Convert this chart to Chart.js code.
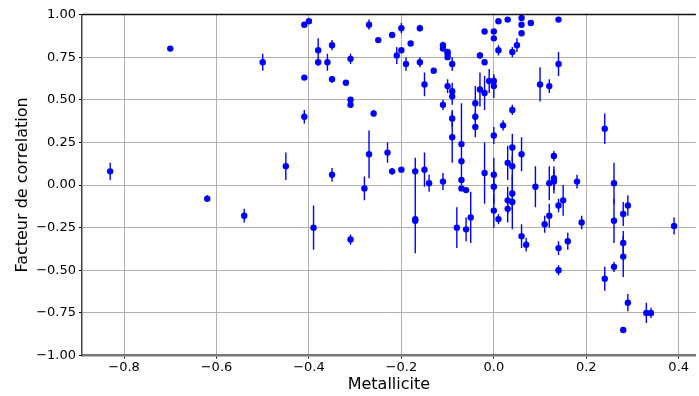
<!DOCTYPE html>
<html>
<head>
<meta charset="utf-8">
<script src="https://cdn.jsdelivr.net/npm/chart.js@4.4.0/dist/chart.umd.min.js"></script>
<style>
html,body{margin:0;padding:0;background:#fff;}
#wrap{width:699px;height:396px;}
</style>
</head>
<body>
<div id="wrap"><canvas id="c" width="699" height="396"></canvas></div>
<script>
// Metallicity values
const metallicity = [
-0.83,-0.70,-0.62,-0.54,-0.50,-0.45,-0.41,-0.41,-0.41,-0.40,
-0.39,-0.38,-0.38,-0.36,-0.35,-0.35,-0.35,-0.32,-0.31,-0.31,
-0.31,-0.31,-0.27,-0.26,-0.27,-0.28,-0.25,-0.23,-0.22,-0.22,
-0.21,-0.20,-0.20,-0.20,-0.18,-0.19,-0.17,-0.17,-0.17,-0.16,
-0.16,-0.15,-0.15,-0.14,-0.13,-0.11,-0.11,-0.11,-0.11,-0.10,
-0.10,-0.10,-0.10,-0.09,-0.09,-0.09,-0.09,-0.09,-0.08,-0.07,
-0.07,-0.07,-0.07,-0.06,-0.06,-0.05,-0.04,-0.04,-0.04,-0.03,
-0.03,-0.02,-0.02,-0.02,-0.02,-0.01,0.00,0.00,0.00,0.00,
0.00,0.00,0.00,0.00,0.01,0.01,0.01,0.02,0.03,0.03,
0.03,0.03,0.04,0.04,0.04,0.04,0.04,0.04,0.05,0.06,
0.06,0.06,0.06,0.06,0.07,0.08,0.09,0.10,0.11,0.12,
0.12,0.12,0.13,0.13,0.13,0.14,0.14,0.14,0.14,0.14,
0.15,0.16,0.18,0.19,0.24,0.24,0.26,0.26,0.26,0.28,
0.28,0.28,0.28,0.29,0.29,0.33,0.34,0.39
];
// Correlation factor values
const correlation = [
0.08,0.80,-0.08,-0.18,0.72,0.11,0.94,0.63,0.40,0.96,
-0.25,0.79,0.72,0.72,0.82,0.62,0.06,0.60,0.74,0.50,
0.47,-0.32,0.94,0.42,0.18,-0.02,0.85,0.19,0.88,0.08,
0.76,0.92,0.79,0.09,0.83,0.71,0.08,-0.20,-0.21,0.92,
0.72,0.59,0.09,0.01,0.67,0.82,0.80,0.47,0.02,0.78,
0.77,0.75,0.58,0.71,0.55,0.52,0.39,0.28,-0.25,0.24,
0.14,0.03,-0.02,-0.03,-0.26,-0.19,0.48,0.40,0.34,0.76,
0.56,0.90,0.72,0.54,0.07,0.61,0.90,0.86,0.61,0.58,
0.29,0.06,-0.01,-0.15,0.96,0.79,-0.20,0.35,0.97,0.13,
-0.09,-0.14,0.78,0.44,0.22,0.11,-0.05,-0.10,0.82,0.98,
0.94,0.89,0.18,-0.30,-0.35,0.95,-0.01,0.59,-0.23,0.58,
0.01,-0.18,0.17,0.04,0.02,0.97,0.71,-0.12,-0.37,-0.50,
-0.09,-0.33,0.02,-0.22,0.33,-0.55,0.01,-0.21,-0.48,-0.17,
-0.34,-0.42,-0.85,-0.12,-0.69,-0.75,-0.75,-0.24
];
// Error bar half-lengths
const correlationError = [
0.05,0.00,0.02,0.04,0.05,0.08,0.01,0.01,0.04,0.01,
0.13,0.07,0.02,0.05,0.03,0.02,0.04,0.01,0.03,0.01,
0.01,0.03,0.03,0.02,0.14,0.07,0.01,0.06,0.01,0.02,
0.05,0.03,0.01,0.01,0.01,0.04,0.08,0.20,0.01,0.02,
0.03,0.07,0.10,0.05,0.01,0.02,0.01,0.03,0.05,0.01,
0.01,0.01,0.04,0.04,0.05,0.05,0.05,0.15,0.12,0.24,
0.01,0.01,0.01,0.01,0.07,0.15,0.10,0.03,0.06,0.02,
0.10,0.01,0.01,0.10,0.18,0.07,0.01,0.01,0.03,0.07,
0.05,0.10,0.10,0.10,0.01,0.03,0.03,0.03,0.01,0.10,
0.08,0.08,0.03,0.03,0.08,0.06,0.10,0.16,0.04,0.01,
0.01,0.01,0.10,0.07,0.04,0.01,0.12,0.10,0.05,0.04,
0.10,0.07,0.03,0.07,0.07,0.01,0.07,0.04,0.04,0.03,
0.09,0.05,0.04,0.04,0.09,0.07,0.12,0.13,0.03,0.07,
0.07,0.12,0.00,0.06,0.05,0.06,0.03,0.05
];
const xTicks = [-0.8,-0.6,-0.4,-0.2,0.0,0.2,0.4];
const yTicks = [-1.00,-0.75,-0.50,-0.25,0.00,0.25,0.50,0.75,1.00];

const points = metallicity.map((x,i)=>({x:x,y:correlation[i],e:correlationError[i]}));

const fmt = (v,d)=>{ const s=Math.abs(v).toFixed(d); return (v< -1e-9 ? '\u2212' : '') + s; };

const errorBars = {
  id:'errorBars',
  beforeDatasetsDraw(chart){
    const {ctx, chartArea:a, scales:{x,y}} = chart;
    ctx.save();
    ctx.beginPath(); ctx.rect(a.left,a.top,a.right-a.left,a.bottom-a.top); ctx.clip();
    ctx.strokeStyle='#0000ff'; ctx.lineWidth=1.4;
    points.forEach(p=>{
      if(!p.e) return;
      const px=x.getPixelForValue(p.x);
      ctx.beginPath();
      ctx.moveTo(px,y.getPixelForValue(p.y-p.e));
      ctx.lineTo(px,y.getPixelForValue(p.y+p.e));
      ctx.stroke();
    });
    ctx.restore();
  }
};
const frame = {
  id:'frame',
  afterDraw(chart){
    const {ctx, chartArea:a} = chart;
    ctx.save();
    ctx.strokeStyle='#111'; ctx.lineWidth=1.5;
    ctx.beginPath(); ctx.moveTo(a.left,a.top); ctx.lineTo(a.right,a.top); ctx.stroke();
    ctx.restore();
  }
};

new Chart(document.getElementById('c'),{
  type:'scatter',
  data:{datasets:[{data:points,backgroundColor:'#0000ff',borderColor:'#0000ff',pointRadius:3.2,pointBorderWidth:0,pointHoverRadius:3.2}]},
  plugins:[errorBars,frame],
  options:{
    responsive:false,animation:false,devicePixelRatio:1,
    layout:{padding:{top:14.5,right:0,left:0,bottom:0}},
    plugins:{legend:{display:false},tooltip:{enabled:false}},
    scales:{
      x:{type:'linear',min:-0.891,max:0.437,
        afterBuildTicks(s){ s.ticks = xTicks.map(v=>({value:v})); },
        afterFit(s){ s.height=40.5; },
        ticks:{color:'#000',font:{family:'DejaVu Sans',size:13},padding:1,maxRotation:0,autoSkip:false,callback:v=>fmt(v,1)},
        grid:{color:'#b0b0b0',borderDash:[1.2,2.4],lineWidth:1,drawTicks:true,tickLength:3,tickColor:'#000',tickBorderDash:[]},
        border:{display:true,color:'#777',width:2.5},
        title:{display:true,text:'Metallicite',color:'#000',font:{family:'DejaVu Sans',size:16},padding:{top:0,bottom:2}}
      },
      y:{type:'linear',min:-1,max:1,
        afterBuildTicks(s){ s.ticks = yTicks.map(v=>({value:v})); },
        afterFit(s){ s.width=82; },
        ticks:{color:'#000',font:{family:'DejaVu Sans',size:13},padding:3,autoSkip:false,callback:v=>fmt(v,2)},
        grid:{color:'#b0b0b0',borderDash:[1.2,2.4],lineWidth:1,drawTicks:true,tickLength:3,tickColor:'#000',tickBorderDash:[]},
        border:{display:true,color:'#444',width:1.5},
        title:{display:true,text:'Facteur de correlation',color:'#000',font:{family:'DejaVu Sans',size:16},padding:{top:13,bottom:6}}
      }
    }
  }
});
</script>
</body>
</html>
